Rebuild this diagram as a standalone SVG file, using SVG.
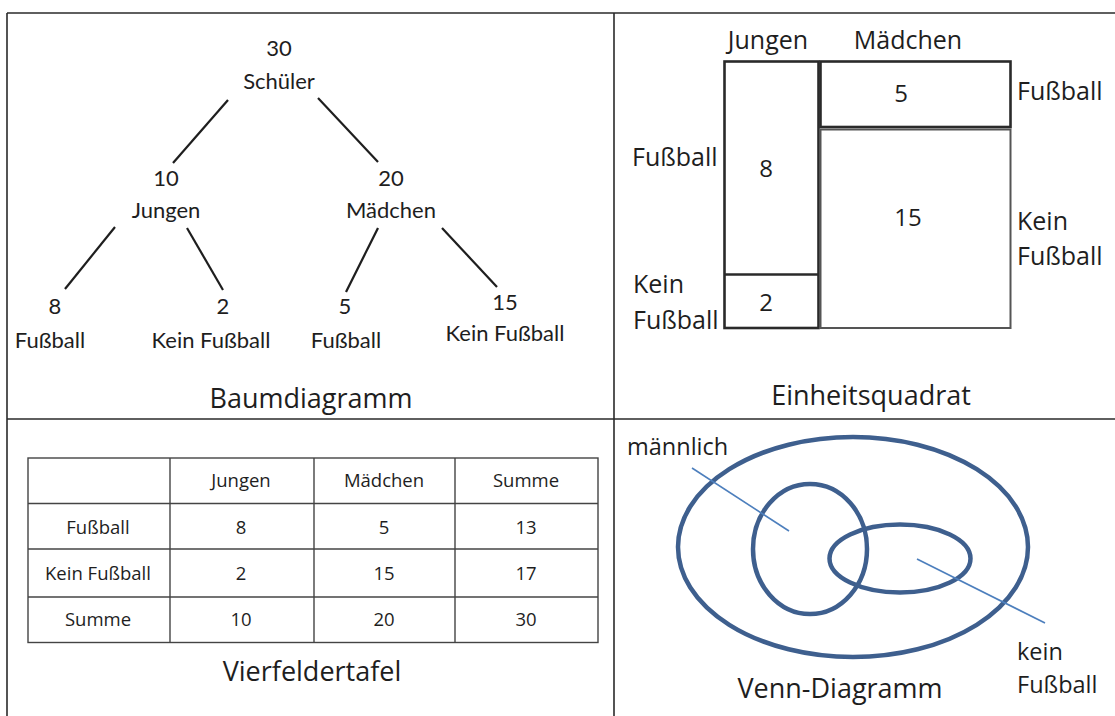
<svg xmlns="http://www.w3.org/2000/svg" width="1115" height="716" viewBox="0 0 1115 716">
<style>
text{font-family:"Open Sans",Lato,"Liberation Sans",sans-serif;fill:#1e1e1e;text-anchor:middle}
.t{font-family:Lato,"Open Sans",sans-serif;font-size:22px}
.e{font-size:25px}
.n{font-size:24px}
.v{font-size:23.5px}
.h{font-size:27px}
.m{font-size:18.5px}
.l{text-anchor:start}
.frame{stroke:#2a2a2a;stroke-width:1.6;fill:none}
.edge{stroke:#1e1e1e;stroke-width:2.2;fill:none}
.box{stroke:#2a2a2a;stroke-width:2.6;fill:none}
.grid{stroke:#444;stroke-width:1.4;fill:none}
.venn{stroke:#3e5f8e;stroke-width:4.5;fill:none}
.pt{stroke:#4d7fbd;stroke-width:1.6}
</style>
<rect width="1115" height="716" fill="#fff"/>
<g id="frame" class="frame">
<line x1="7" y1="13" x2="1115" y2="13"/>
<line x1="7" y1="13" x2="7" y2="716"/>
<line x1="614" y1="13" x2="614" y2="716"/>
<line x1="7" y1="419" x2="1115" y2="419"/>
</g>
<g id="tree-connectors" class="edge">
<line x1="228" y1="100" x2="173" y2="163"/>
<line x1="318" y1="98" x2="378" y2="162"/>
<line x1="115" y1="227" x2="65" y2="289"/>
<line x1="187" y1="228" x2="223" y2="290"/>
<line x1="378" y1="228" x2="346" y2="292"/>
<line x1="442" y1="228" x2="497" y2="287"/>
</g>
<g id="tree-root"><text class="t" x="279" y="56">30</text><text class="t" x="279" y="89">Schüler</text></g>
<g id="tree-jungen"><text class="t" x="166" y="186">10</text><text class="t" x="166" y="218">Jungen</text></g>
<g id="tree-maedchen"><text class="t" x="391" y="186">20</text><text class="t" x="391" y="218">Mädchen</text></g>
<g id="tree-j-fb"><text class="t" x="55" y="314">8</text><text class="t" x="50" y="348">Fußball</text></g>
<g id="tree-j-kfb"><text class="t" x="223" y="314">2</text><text class="t" x="211" y="348">Kein Fußball</text></g>
<g id="tree-m-fb"><text class="t" x="345" y="314">5</text><text class="t" x="346" y="348">Fußball</text></g>
<g id="tree-m-kfb"><text class="t" x="505" y="310">15</text><text class="t" x="505" y="341">Kein Fußball</text></g>
<text class="h" x="311" y="408">Baumdiagramm</text>

<g id="einheitsquadrat">
<rect class="box" x="724.5" y="61.5" width="94" height="266.5"/>
<line class="box" x1="724.5" y1="274.5" x2="818.5" y2="274.5"/>
<rect class="box" x="820.5" y="61.5" width="190" height="65.5"/>
<rect x="820.5" y="129.5" width="190" height="198.5" fill="none" stroke="#555" stroke-width="2"/>
<text class="e" x="768" y="49">Jungen</text>
<text class="e" x="908" y="49">Mädchen</text>
<text class="n" x="901" y="102">5</text>
<text class="n" x="766" y="177">8</text>
<text class="n" x="908" y="226">15</text>
<text class="n" x="766" y="311">2</text>
<text class="e l" x="1017" y="100">Fußball</text>
<text class="e l" x="632" y="166">Fußball</text>
<text class="e l" x="1017" y="230">Kein</text>
<text class="e l" x="1017" y="265">Fußball</text>
<text class="e l" x="633" y="293">Kein</text>
<text class="e l" x="633" y="329">Fußball</text>
</g>
<text class="h" x="871" y="405">Einheitsquadrat</text>

<g id="vierfeldertafel">
<rect class="grid" x="28" y="458" width="570" height="184.5"/>
<line class="grid" x1="28" y1="503.5" x2="598" y2="503.5"/>
<line class="grid" x1="28" y1="549" x2="598" y2="549"/>
<line class="grid" x1="28" y1="597" x2="598" y2="597"/>
<line class="grid" x1="170" y1="458" x2="170" y2="642.5"/>
<line class="grid" x1="314" y1="458" x2="314" y2="642.5"/>
<line class="grid" x1="455" y1="458" x2="455" y2="642.5"/>
<text class="m" x="241" y="487">Jungen</text>
<text class="m" x="384" y="487">Mädchen</text>
<text class="m" x="526" y="487">Summe</text>
<text class="m" x="98" y="534">Fußball</text>
<text class="m" x="241" y="534">8</text>
<text class="m" x="384" y="534">5</text>
<text class="m" x="526" y="534">13</text>
<text class="m" x="98" y="580">Kein Fußball</text>
<text class="m" x="241" y="580">2</text>
<text class="m" x="384" y="580">15</text>
<text class="m" x="526" y="580">17</text>
<text class="m" x="98" y="626">Summe</text>
<text class="m" x="241" y="626">10</text>
<text class="m" x="384" y="626">20</text>
<text class="m" x="526" y="626">30</text>
</g>
<text class="h" x="312" y="681">Vierfeldertafel</text>

<g id="venn">
<ellipse class="venn" cx="853" cy="547" rx="175" ry="110"/>
<ellipse class="venn" cx="810" cy="549" rx="57" ry="65"/>
<ellipse class="venn" cx="900" cy="558.5" rx="70.5" ry="34"/>
<line class="pt" x1="692" y1="468" x2="789" y2="531"/>
<line class="pt" x1="917" y1="559" x2="1045" y2="623"/>
<text class="v l" x="627" y="455">männlich</text>
<text class="v l" x="1017" y="660">kein</text>
<text class="v l" x="1017" y="693">Fußball</text>
</g>
<text class="h" x="840" y="698">Venn-Diagramm</text>
</svg>
